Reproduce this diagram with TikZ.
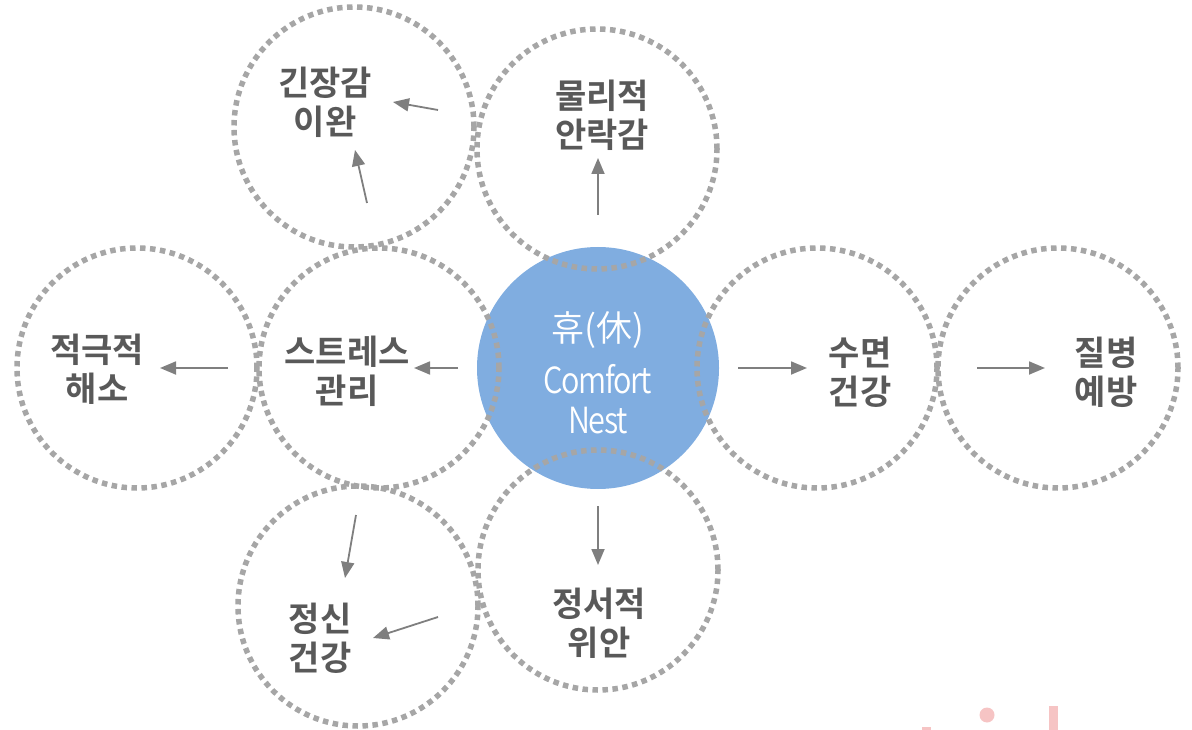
\documentclass[tikz,border=0pt]{standalone}
\usepackage{fontspec}
\newfontfamily\krbold{Noto Sans CJK KR Bold}
\newfontfamily\krlight{Noto Sans CJK KR DemiLight}
\newfontfamily\krlightsp{Noto Sans CJK KR DemiLight}[FakeStretch=0.85,LetterSpace=-4]
\usetikzlibrary{arrows.meta}
\definecolor{nestblue}{RGB}{128,173,224}
\definecolor{ringgray}{RGB}{166,166,166}
\definecolor{wordgray}{RGB}{89,89,89}
\definecolor{arrowgray}{RGB}{127,127,127}
\definecolor{markpink}{RGB}{246,196,196}

\begin{document}
\begin{tikzpicture}[x=1pt,y=-1pt,
  ring/.style={circle,draw=ringgray,line width=5.5pt,dash pattern=on 5.5pt off 4.5pt,
    minimum size=240pt,inner sep=0pt},
  word/.style={align=center,text=wordgray,font=\krbold\fontsize{34}{39}\selectfont},
  arr/.style={-{Triangle[length=16pt,width=13pt]},line width=1.8pt,draw=arrowgray}
]
\useasboundingbox (0,0) rectangle (1192,730);

% centre
\node[circle,fill=nestblue,minimum size=242pt,inner sep=0pt] (nest) at (598,368) {};
\node[text=white,align=center,font=\krlight\fontsize{36}{40}\selectfont]
  (nestT) at (598,373) {휴(休)\\[12pt]{\krlightsp Comfort}\\{\krlightsp Nest}};

% dotted rings
\node[ring] (calm) at (354,127) {};
\node[ring] (comfort) at (597,149) {};
\node[ring] (active) at (137,368) {};
\node[ring] (stress) at (379,368) {};
\node[ring] (sleep) at (817,368) {};
\node[ring] (disease) at (1058,368) {};
\node[ring] (mind) at (358,606) {};
\node[ring] (emotion) at (598,570) {};

% labels
\node[word] (calmT) at (325,102) {긴장감\\이완};
\node[word] (comfortT) at (602,115) {물리적\\안락감};
\node[word] (activeT) at (97,369) {적극적\\해소};
\node[word] (stressT) at (347,371) {스트레스\\관리};
\node[word] (sleepT) at (860,372) {수면\\건강};
\node[word] (diseaseT) at (1106,372) {질병\\예방};
\node[word] (mindT) at (320,638) {정신\\건강};
\node[word] (emotionT) at (599,623) {정서적\\위안};

% arrow ends
\coordinate (a1) at (598,215); \coordinate (b1) at (598,158);
\coordinate (a2) at (438,110); \coordinate (b2) at (393,102);
\coordinate (a3) at (367,203); \coordinate (b3) at (355,150);
\coordinate (a4) at (458,368); \coordinate (b4) at (414,368);
\coordinate (a5) at (228,368); \coordinate (b5) at (160,368);
\coordinate (a6) at (738,368); \coordinate (b6) at (807,368);
\coordinate (a7) at (977,368); \coordinate (b7) at (1045,368);
\coordinate (a8) at (598,506); \coordinate (b8) at (598,565);
\coordinate (a9) at (356,515); \coordinate (b9) at (345,578);
\coordinate (a10) at (438,617); \coordinate (b10) at (373,638);

\foreach \i in {1,...,10}
  \draw[arr] (a\i) -- (b\i);

% cut-off marks at the lower edge
\fill[markpink] (922,727) rectangle (931,730);
\fill[markpink] (987,715) circle (7.5);
\fill[markpink] (1049,706) rectangle (1058,730);
\end{tikzpicture}
\end{document}
